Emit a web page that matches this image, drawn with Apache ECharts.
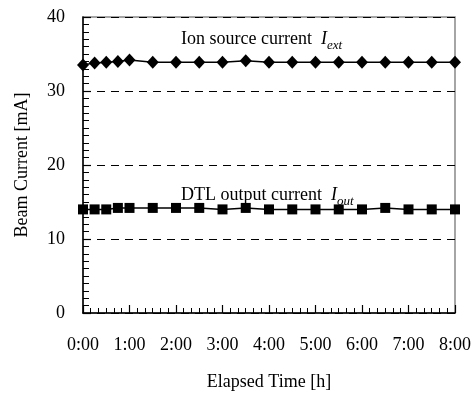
<!DOCTYPE html>
<html>
<head>
<meta charset="utf-8">
<script src="https://cdn.jsdelivr.net/npm/echarts@6/dist/echarts.min.js"></script>
<style>
  html, body { margin: 0; padding: 0; background: #fff; }
  #chart { width: 474px; height: 396px; }
</style>
</head>
<body>
<div id="chart"></div>
<script>
// elapsed time in hours
const hours = [0, 0.25, 0.5, 0.75, 1, 1.5, 2, 2.5, 3, 3.5, 4, 4.5, 5, 5.5, 6, 6.5, 7, 7.5, 8];
// ion source current I_ext [mA]
const ionSource = [33.5, 33.8, 33.9, 34.0, 34.2, 33.9, 33.9, 33.9, 33.9, 34.1, 33.9, 33.9, 33.9, 33.9, 33.9, 33.9, 33.9, 33.9, 33.9];
// DTL output current I_out [mA]
const dtlOutput = [14.0, 14.0, 14.0, 14.2, 14.2, 14.2, 14.2, 14.2, 14.0, 14.2, 14.0, 14.0, 14.0, 14.0, 14.0, 14.2, 14.0, 14.0, 14.0];

const font = "'Liberation Serif', 'DejaVu Serif', serif";
const pair = (xs, ys) => xs.map((x, i) => [x, ys[i]]);

const chart = echarts.init(document.getElementById("chart"));

const label = (text, sub, y) => ({
    type: "text",
    left: 181,
    top: y,
    style: {
        text: "{n|" + text + "  }{i|I}{s|" + sub + "}",
        fill: "#000",
        rich: {
            n: {fontFamily: font, fontSize: 18, lineHeight: 26, verticalAlign: "middle", fill: "#000"},
            i: {fontFamily: font, fontSize: 18, fontStyle: "italic", lineHeight: 26, verticalAlign: "middle", fill: "#000"},
            s: {fontFamily: font, fontSize: 13, fontStyle: "italic", lineHeight: 10, verticalAlign: "bottom", fill: "#000"}
        }
    }
});

chart.setOption({
    animation: false,
    backgroundColor: "#fff",
    grid: {
        left: 83, right: 16, top: 17, bottom: 72,
        show: true,
        borderColor: "#888",
        borderWidth: 1.5
    },
    xAxis: {
        type: "value",
        min: 0,
        max: 8,
        interval: 1,
        name: "Elapsed Time [h]",
        nameLocation: "middle",
        nameGap: 60,
        nameTextStyle: {fontFamily: font, fontSize: 18, color: "#000"},
        axisLine: {lineStyle: {color: "#000", width: 1.5}},
        axisTick: {inside: true, length: 8, lineStyle: {color: "#000", width: 1.2}},
        minorTick: {show: true, splitNumber: 6, length: 5, lineStyle: {color: "#000", width: 1}},
        axisLabel: {
            fontFamily: font, fontSize: 18, color: "#000", margin: 23,
            formatter: v => v + ":00"
        },
        splitLine: {show: false}
    },
    yAxis: {
        type: "value",
        min: 0,
        max: 40,
        interval: 10,
        name: "Beam Current [mA]",
        nameLocation: "middle",
        nameGap: 52,
        nameTextStyle: {fontFamily: font, fontSize: 18, color: "#000"},
        axisLine: {show: true, lineStyle: {color: "#000", width: 1.5}},
        axisTick: {show: true, inside: true, length: 8, lineStyle: {color: "#000", width: 1.2}},
        minorTick: {show: true, splitNumber: 10, length: 6, lineStyle: {color: "#000", width: 1}},
        axisLabel: {fontFamily: font, fontSize: 18, color: "#000", margin: 18},
        splitLine: {show: true, lineStyle: {color: "#000", type: [8, 6], width: 1}}
    },
    series: [
        {
            type: "line",
            name: "Ion source current",
            data: pair(hours, ionSource),
            symbol: "diamond",
            symbolSize: [12, 13],
            lineStyle: {color: "#000", width: 1.5},
            itemStyle: {color: "#000"}
        },
        {
            type: "line",
            name: "DTL output current",
            data: pair(hours, dtlOutput),
            symbol: "rect",
            symbolSize: 10,
            lineStyle: {color: "#000", width: 1.5},
            itemStyle: {color: "#000"}
        }
    ],
    graphic: [
        label("Ion source current", "ext", 30),
        label("DTL output current", "out", 186)
    ]
});
</script>
</body>
</html>
